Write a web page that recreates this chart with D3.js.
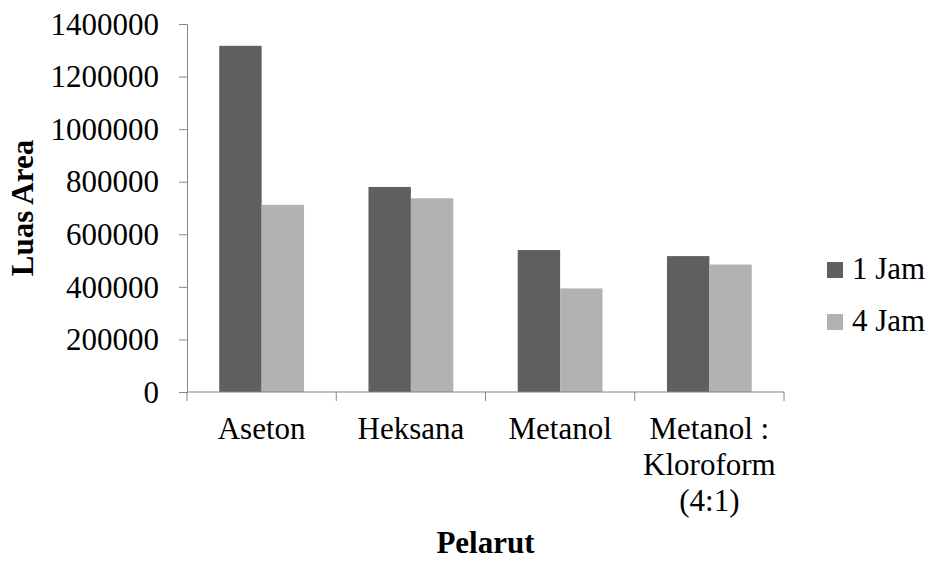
<!DOCTYPE html>
<html>
<head>
<meta charset="utf-8">
<script src="https://cdn.jsdelivr.net/npm/d3@7"></script>
<style>
  body { margin: 0; background: #fff; }
  svg text { font-family: "Times New Roman", "Liberation Serif", Tinos, "DejaVu Serif", serif; fill: #000; }
</style>
</head>
<body>
<svg width="929" height="561"></svg>
<script>
// Data
const categories = ["Aseton", "Heksana", "Metanol", "Metanol :\nKloroform\n(4:1)"];
const series = ["1 Jam", "4 Jam"];
const jam1 = [1317000, 780000, 540000, 517000];
const jam4 = [712000, 737000, 394000, 485000];
const yTicks = [0, 200000, 400000, 600000, 800000, 1000000, 1200000, 1400000];

const colors = ["#5f5f5f", "#b2b2b2"];
const axisColor = "#868686";

// Plot area
const margin = { top: 24, right: 145, bottom: 169, left: 187 },
      width = 929 - margin.left - margin.right,
      height = 561 - margin.top - margin.bottom;

const svg = d3.select("svg")
    .append("g")
    .attr("transform", `translate(${margin.left},${margin.top})`);

const rows = categories.map((c, i) => ({ cat: c, vals: [jam1[i], jam4[i]] }));

// Scales
const x0 = d3.scaleBand().domain(categories).range([0, width]).padding(0);
const x1 = d3.scaleBand().domain(series).range([0, x0.bandwidth()])
    .paddingInner(0).paddingOuter(0.76);
const y = d3.scaleLinear().domain([0, 1400000]).range([height, 0]);

// Bars
const groups = svg.selectAll(".grp")
    .data(rows)
    .enter().append("g")
    .attr("class", "grp")
    .attr("transform", d => `translate(${x0(d.cat)},0)`);

groups.selectAll("rect")
    .data(d => d.vals.map((v, i) => ({ key: series[i], v: v, i: i })))
    .enter().append("rect")
    .attr("x", d => x1(d.key))
    .attr("y", d => y(d.v))
    .attr("width", x1.bandwidth())
    .attr("height", d => height - y(d.v))
    .attr("fill", d => colors[d.i]);

// Y axis
const yAxis = svg.append("g")
    .call(d3.axisLeft(y).tickValues(yTicks).tickSize(8).tickPadding(20).tickFormat(d3.format("d")))
    .attr("font-family", null);
yAxis.select(".domain").attr("stroke", axisColor);
yAxis.selectAll(".tick line").attr("stroke", axisColor);
yAxis.selectAll(".tick text")
    .style("font-size", "31px")
    .attr("dy", "0.33em");

// X axis: ticks at category boundaries
const xAxis = svg.append("g").attr("transform", `translate(0,${height})`);
xAxis.append("line")
    .attr("x1", 0).attr("x2", width)
    .attr("stroke", axisColor);
const bounds = categories.map(c => x0(c)).concat([width]);
xAxis.selectAll(".bnd")
    .data(bounds)
    .enter().append("line")
    .attr("class", "bnd")
    .attr("x1", d => d).attr("x2", d => d)
    .attr("y1", 0).attr("y2", 9)
    .attr("stroke", axisColor);

// Category labels (multi-line)
const lab = xAxis.selectAll(".lab")
    .data(categories)
    .enter().append("text")
    .attr("class", "lab")
    .attr("text-anchor", "middle")
    .attr("transform", d => `translate(${x0(d) + x0.bandwidth() / 2},47)`)
    .style("font-size", "31px");
lab.selectAll("tspan")
    .data(d => d.split("\n"))
    .enter().append("tspan")
    .attr("x", 0)
    .attr("y", (d, i) => i * 36)
    .text(d => d);

// Axis titles
svg.append("text")
    .attr("x", width / 2)
    .attr("y", 529)
    .attr("text-anchor", "middle")
    .style("font-size", "31px")
    .style("font-weight", "bold")
    .text("Pelarut");

svg.append("text")
    .attr("transform", `translate(${33 - margin.left},${height / 2}) rotate(-90)`)
    .attr("text-anchor", "middle")
    .style("font-size", "31px")
    .style("font-weight", "bold")
    .text("Luas Area");

// Legend
const legend = d3.select("svg").append("g")
    .attr("transform", "translate(827,262)");
const li = legend.selectAll(".li")
    .data(series)
    .enter().append("g")
    .attr("class", "li")
    .attr("transform", (d, i) => `translate(0,${i * 52})`);
li.append("rect")
    .attr("width", 16).attr("height", 16)
    .attr("fill", (d, i) => colors[i]);
li.append("text")
    .attr("x", 25)
    .attr("y", 17)
    .style("font-size", "31px")
    .text(d => d);
</script>
</body>
</html>
